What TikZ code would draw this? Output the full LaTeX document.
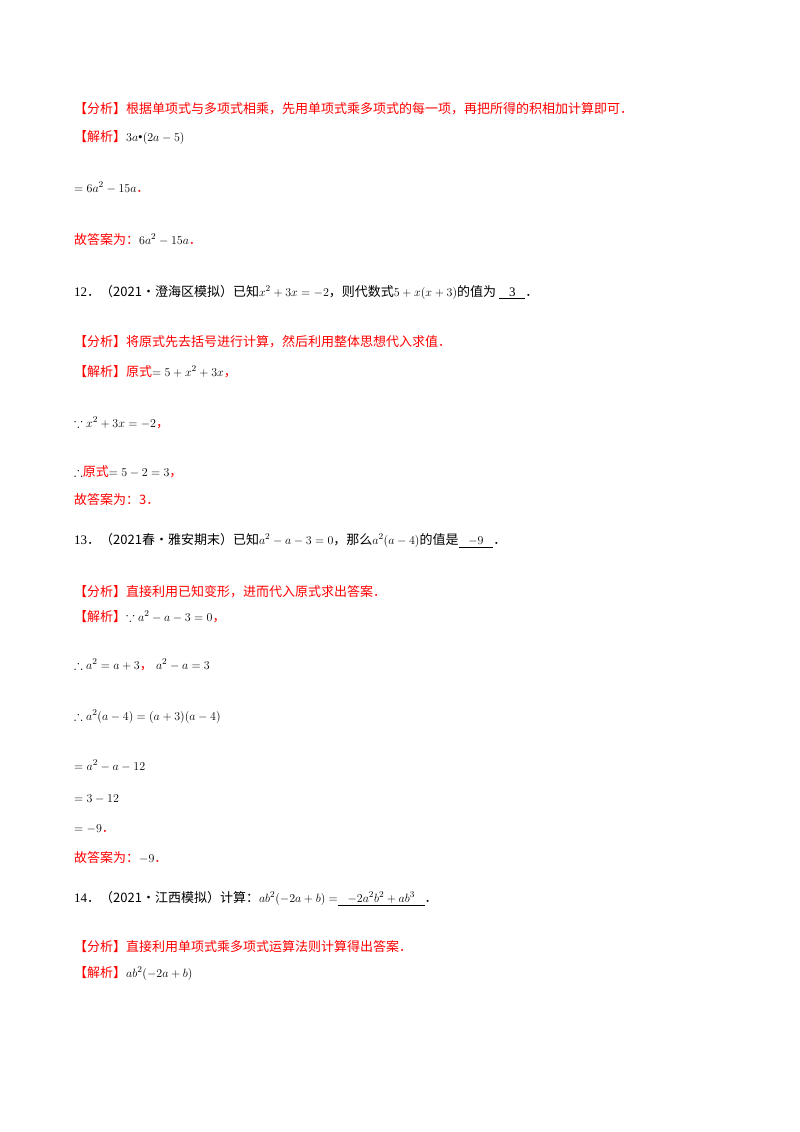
\documentclass[tikz,border=0pt]{standalone}
\usepackage{amssymb}
\usepackage{fontspec}
\setmainfont{Liberation Serif}
\newfontfamily\cjk{Noto Sans CJK SC}
\definecolor{ared}{RGB}{255,0,0}
\begin{document}
\begin{tikzpicture}[x=1pt,y=-1pt,
  ln/.style={anchor=base west,inner sep=0pt,font=\fontsize{13pt}{15pt}\selectfont},
  rd/.style={ln,text=ared}]
\useasboundingbox (0,0) rectangle (800,1132);
\newcommand{\C}[1]{{\cjk #1}}
\newcommand{\R}[1]{\textcolor{ared}{\cjk #1}}
\node[rd] (a1) at (74,113) {\C{【分析】根据单项式与多项式相乘，先用单项式乘多项式的每一项，再把所得的积相加计算即可．}};
\node[ln] (a2) at (74,141) {\R{【解析】}$3a$•$(2a-5)$};
\node[ln] (a3) at (74,192) {$=6a^2-15a$\R{．}};
\node[ln] (a4) at (74,244) {\R{故答案为：}$6a^2-15a$\R{．}};
\node[ln] (q12) at (74,296) {12\C{．（2021•澄海区模拟）已知}$x^2+3x=-2$\C{，则代数式}$5+x(x+3)$\C{的值为}\ \underline{\ \ \ 3\ \ \ }\C{．}};
\node[rd] (b1) at (74,346) {\C{【分析】将原式先去括号进行计算，然后利用整体思想代入求值．}};
\node[ln] (b2) at (74,376) {\R{【解析】原式}$=5+x^2+3x$\R{，}};
\node[ln] (b3) at (74,427) {$\because x^2+3x=-2$\R{，}};
\node[ln] (b4) at (74,476) {$\therefore$\R{原式}$=5-2=3$\R{，}};
\node[rd] (b5) at (74,504) {\C{故答案为：3．}};
\node[ln] (q13) at (74,544) {13\C{．（2021春•雅安期末）已知}$a^2-a-3=0$\C{，那么}$a^2(a-4)$\C{的值是}\underline{\ \ \ $-9$\ \ \ }\C{．}};
\node[rd] (c1) at (74,596) {\C{【分析】直接利用已知变形，进而代入原式求出答案．}};
\node[ln] (c2) at (74,621) {\R{【解析】}$\because a^2-a-3=0$\R{，}};
\node[ln] (c3) at (74,669) {$\therefore a^2=a+3$\R{，}\ $a^2-a=3$};
\node[ln] (c4) at (74,720) {$\therefore a^2(a-4)=(a+3)(a-4)$};
\node[ln] (c5) at (74,770) {$=a^2-a-12$};
\node[ln] (c6) at (74,802) {$=3-12$};
\node[ln] (c7) at (74,832) {$=-9$\R{．}};
\node[ln] (c8) at (74,862) {\R{故答案为：}$-9$\R{．}};
\node[ln] (q14) at (74,902) {14\C{．（2021•江西模拟）计算：}$ab^2(-2a+b)=$\underline{\ \ \ $-2a^2b^2+ab^3$\ \ \ }\C{．}};
\node[rd] (d1) at (74,951) {\C{【分析】直接利用单项式乘多项式运算法则计算得出答案．}};
\node[ln] (d2) at (74,977) {\R{【解析】}$ab^2(-2a+b)$};
\end{tikzpicture}
\end{document}
